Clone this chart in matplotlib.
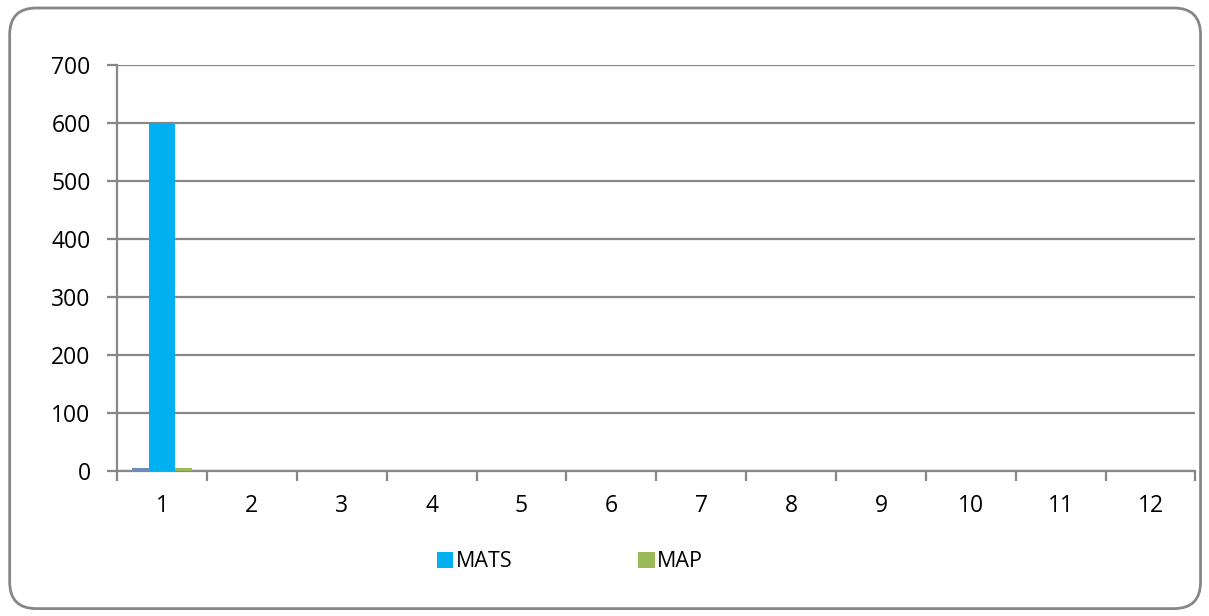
import matplotlib.pyplot as plt
from matplotlib.patches import FancyBboxPatch
from matplotlib.ticker import FixedLocator
import numpy as np

categories = [str(i) for i in range(1, 13)]
first_series = [4, 0, 0, 0, 0, 0, 0, 0, 0, 0, 0, 0]
mats = [600, 0, 0, 0, 0, 0, 0, 0, 0, 0, 0, 0]
map_vals = [4, 0, 0, 0, 0, 0, 0, 0, 0, 0, 0, 0]

plt.rcParams['font.family'] = ['Open Sans', 'DejaVu Sans']

fig = plt.figure(figsize=(12.09, 6.16), dpi=100)

# rounded chart-area frame, kept behind the axes
frame = FancyBboxPatch((0.008, 0.012), 0.985, 0.975,
                       boxstyle="round,pad=0,rounding_size=0.022",
                       transform=fig.transFigure, facecolor='white',
                       edgecolor='#878787', linewidth=2,
                       mutation_aspect=1209/616, zorder=-5)
fig.patches.append(frame)

ax = fig.add_axes([0.0968, 0.236, 0.892, 0.6585])
ax.set_facecolor('none')
ax.set_zorder(2)

x = np.arange(len(categories))
ax.bar(x - 0.235, first_series, 0.2, color='#6D8DB5', linewidth=0, zorder=3)
ax.bar(x, mats, 0.28, color='#00B0F0', linewidth=0, label='MATS', zorder=4)
ax.bar(x + 0.235, map_vals, 0.2, color='#9BBB59', linewidth=0, label='MAP', zorder=3)

ax.set_xlim(-0.5, len(categories) - 0.5)
ax.set_ylim(0, 700)
ax.set_yticks(range(0, 701, 100))
ax.yaxis.grid(True, color='#878787', linewidth=1.6, zorder=0)
ax.set_axisbelow(True)

ax.set_xticks(x)
ax.set_xticklabels(categories)
ax.xaxis.set_minor_locator(FixedLocator(np.arange(-0.5, len(categories), 1.0)))
ax.tick_params(axis='x', which='major', length=0, pad=17, labelsize=16.5)
ax.tick_params(axis='x', which='minor', length=7, width=1.6, color='#878787',
               direction='out')
ax.tick_params(axis='y', length=7, width=1.6, color='#878787', pad=12,
               labelsize=16.5)

for s in ['top', 'right']:
    ax.spines[s].set_visible(False)
ax.spines['left'].set_color('#878787')
ax.spines['left'].set_linewidth(1.6)
ax.spines['bottom'].set_color('#878787')
ax.spines['bottom'].set_linewidth(1.6)

leg = fig.legend(loc='center', bbox_to_anchor=(0.4715, 0.088), ncol=2, frameon=False,
                 fontsize=15.5, handlelength=0.75, handleheight=0.75, handletextpad=0.12,
                 columnspacing=5.85)
leg.set_zorder(3)

fig.savefig('out.png', dpi=100)
